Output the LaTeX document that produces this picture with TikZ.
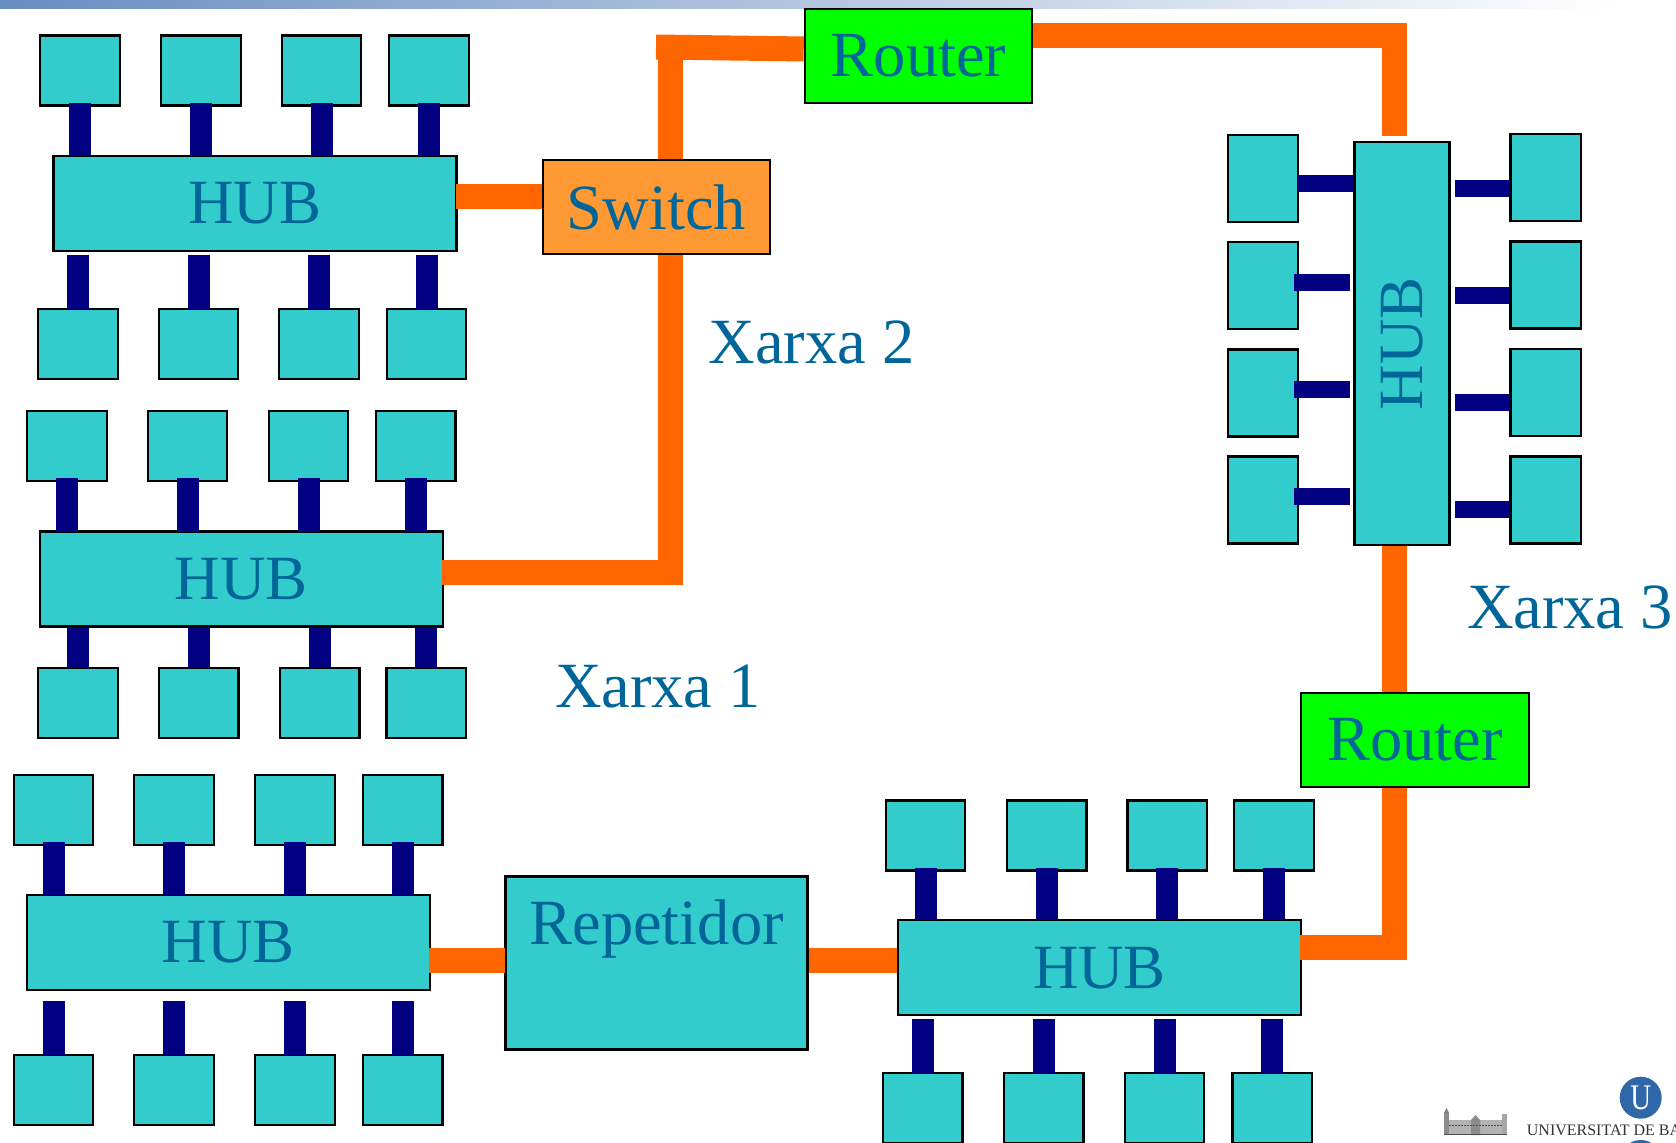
\documentclass[tikz,border=0pt]{standalone}
\usepackage{fontspec}
\setmainfont{Liberation Serif}
\usepackage{tikz}
\definecolor{pccyan}{RGB}{51,204,204}
\definecolor{busnavy}{RGB}{0,0,128}
\definecolor{linkorange}{RGB}{255,102,0}
\definecolor{switchorange}{RGB}{255,153,51}
\definecolor{routergreen}{RGB}{0,255,0}
\definecolor{netblue}{RGB}{0,102,153}
\definecolor{barblue}{RGB}{104,141,193}
\definecolor{logoblue}{RGB}{47,103,168}
\newcommand{\netfont}{\fontsize{63}{63}\selectfont}
\newcommand{\wordfont}{\fontsize{64.5}{64.5}\selectfont}

\begin{document}
\begin{tikzpicture}[
  x=1pt,y=-1pt,
  pc/.style={draw,line width=2.4pt,fill=pccyan,minimum width=79.5pt,minimum height=70pt,inner sep=0pt,outer sep=0pt},
  pcv/.style={pc,minimum width=70.5pt,minimum height=87pt},
  hub/.style={pc,minimum width=403pt,minimum height=95pt,font=\netfont,text=netblue},
  hubv/.style={hub,minimum width=95pt,minimum height=403pt},
  router/.style={hub,font=\wordfont,fill=routergreen,minimum width=227.5pt,minimum height=94pt},
  switchbox/.style={router,fill=switchorange},
  repbox/.style={hub,font=\wordfont,minimum width=302pt,minimum height=173pt,text depth=82pt},
  xarxa/.style={font=\wordfont,text=netblue,inner sep=0pt},
  bus/.style={busnavy,line width=22pt},
  busv/.style={busnavy,line width=17pt},
  link/.style={linkorange,line width=25pt,shorten <=1pt,shorten >=1pt}
]
\useasboundingbox (0,0) rectangle (1676,1143);
\clip (0,0) rectangle (1676,1143);
\shade[left color=barblue,right color=white,draw=none] (0,0) rectangle (1620,8);
% network 2, upper hub
\node[hub] (hubA) at (255,203.5) {HUB};
\node[pc] (a1) at (80,70.5) {};
\node[pc] (a2) at (201,70.5) {};
\node[pc] (a3) at (321.5,70.5) {};
\node[pc] (a4) at (429,70.5) {};
\node[pc] (a5) at (78,343.7) {};
\node[pc] (a6) at (198.5,343.7) {};
\node[pc] (a7) at (319,343.7) {};
\node[pc] (a8) at (426.5,343.7) {};
% network 2, lower hub
\node[hub] (hubB) at (241.5,579) {HUB};
\node[pc] (b1) at (67,446.2) {};
\node[pc] (b2) at (187.5,446.2) {};
\node[pc] (b3) at (308.5,446.2) {};
\node[pc] (b4) at (415.6,446.2) {};
\node[pc] (b5) at (78,702.8) {};
\node[pc] (b6) at (198.7,702.8) {};
\node[pc] (b7) at (319.6,702.8) {};
\node[pc] (b8) at (426.3,702.8) {};
% network 1
\node[hub] (hubC) at (228.5,942.3) {HUB};
\node[pc] (c1) at (53.5,810) {};
\node[pc] (c2) at (174,810) {};
\node[pc] (c3) at (295,810) {};
\node[pc] (c4) at (402.7,810) {};
\node[pc] (c5) at (53.5,1090) {};
\node[pc] (c6) at (174,1090) {};
\node[pc] (c7) at (295,1090) {};
\node[pc] (c8) at (402.7,1090) {};
\node[hub] (hubD) at (1099.5,967.7) {HUB};
\node[pc] (d1) at (925.5,835.5) {};
\node[pc] (d2) at (1046.6,835.5) {};
\node[pc] (d3) at (1167.2,835.5) {};
\node[pc] (d4) at (1274,835.5) {};
\node[pc] (d5) at (922.9,1108) {};
\node[pc] (d6) at (1043.6,1108) {};
\node[pc] (d7) at (1164.5,1108) {};
\node[pc] (d8) at (1272.3,1108) {};
\node[repbox] (rep) at (656.6,962.8) {Repetidor};
% network 3
\node[hubv] (hubE) at (1401.8,343.5) {\rotatebox{90}{HUB}\hspace{6pt}};
\node[pcv] (e1) at (1263,178.3) {};
\node[pcv] (e2) at (1263,285.7) {};
\node[pcv] (e3) at (1263,393) {};
\node[pcv] (e4) at (1263,500) {};
\node[pcv] (e5) at (1545.6,177.7) {};
\node[pcv] (e6) at (1545.6,285) {};
\node[pcv] (e7) at (1545.6,392.3) {};
\node[pcv] (e8) at (1545.6,500) {};
% devices between the networks
\node[switchbox] (swi) at (656.5,207) {Switch};
\node[router] (rtrA) at (918.5,56) {Router};
\node[router] (rtrB) at (1415,740) {Router};
\node[xarxa] (xarxaA) at (658,686.5) {Xarxa 1};
\node[xarxa] (xarxaB) at (811.5,342.5) {Xarxa 2};
\node[xarxa] (xarxaC) at (1570,607.5) {Xarxa 3};
\coordinate (cornS) at (670.5,47);
\coordinate (endS) at (656,47);
\coordinate (cornB) at (670.5,572.5);
\coordinate (cornA) at (1394.5,35.5);
\coordinate (cornE) at (1394.5,600);
\coordinate (cornD) at (1394.5,947.5);
% orange backbone
\draw[link,shorten <=-1pt] ([yshift=7pt]hubA.east) -- ([yshift=7pt]hubA.east -| swi.west);
\draw[link,shorten >=-1pt] (swi.south -| cornB) -- (cornB) -- (cornB -| hubB.east);
\draw[link,shorten >=0pt] (swi.north -| cornS) -- (cornS);
\draw[link,shorten <=0pt] (endS) -- ([yshift=7pt]rtrA.west);
\draw[link,shorten >=6pt] (rtrA.east |- cornA) -- (cornA) -- (cornA |- hubE.north);
\draw[link] (hubE.south -| cornE) -- (rtrB.north -| cornE);
\draw[link,shorten >=-1pt] (rtrB.south -| cornD) -- (cornD) -- (cornD -| hubD.east);
\draw[link,shorten >=-1pt] ([yshift=2pt]rep.west) -- ([yshift=2pt]rep.west -| hubC.east);
\draw[link] ([yshift=2pt]rep.east) -- ([yshift=2pt]rep.east -| hubD.west);
% navy drops
\draw[bus,shorten <=-3pt] (a1.south) -- (a1.south |- hubA.north);
\draw[bus,shorten <=-3pt] (a2.south) -- (a2.south |- hubA.north);
\draw[bus,shorten <=-3pt] (a3.south) -- (a3.south |- hubA.north);
\draw[bus,shorten <=-3pt] (a4.south) -- (a4.south |- hubA.north);
\draw[bus,shorten <=4pt] (a5.north |- hubA.south) -- (a5.north);
\draw[bus,shorten <=4pt] (a6.north |- hubA.south) -- (a6.north);
\draw[bus,shorten <=4pt] (a7.north |- hubA.south) -- (a7.north);
\draw[bus,shorten <=4pt] (a8.north |- hubA.south) -- (a8.north);
\draw[bus,shorten <=-3pt] (b1.south) -- (b1.south |- hubB.north);
\draw[bus,shorten <=-3pt] (b2.south) -- (b2.south |- hubB.north);
\draw[bus,shorten <=-3pt] (b3.south) -- (b3.south |- hubB.north);
\draw[bus,shorten <=-3pt] (b4.south) -- (b4.south |- hubB.north);
\draw[bus] (b5.north |- hubB.south) -- (b5.north);
\draw[bus] (b6.north |- hubB.south) -- (b6.north);
\draw[bus] (b7.north |- hubB.south) -- (b7.north);
\draw[bus] (b8.north |- hubB.south) -- (b8.north);
\draw[bus,shorten <=-3pt] (c1.south) -- (c1.south |- hubC.north);
\draw[bus,shorten <=-3pt] (c2.south) -- (c2.south |- hubC.north);
\draw[bus,shorten <=-3pt] (c3.south) -- (c3.south |- hubC.north);
\draw[bus,shorten <=-3pt] (c4.south) -- (c4.south |- hubC.north);
\draw[bus,shorten <=11pt] (c5.north |- hubC.south) -- (c5.north);
\draw[bus,shorten <=11pt] (c6.north |- hubC.south) -- (c6.north);
\draw[bus,shorten <=11pt] (c7.north |- hubC.south) -- (c7.north);
\draw[bus,shorten <=11pt] (c8.north |- hubC.south) -- (c8.north);
\draw[bus,shorten <=-3pt] (d1.south) -- (d1.south |- hubD.north);
\draw[bus,shorten <=-3pt] (d2.south) -- (d2.south |- hubD.north);
\draw[bus,shorten <=-3pt] (d3.south) -- (d3.south |- hubD.north);
\draw[bus,shorten <=-3pt] (d4.south) -- (d4.south |- hubD.north);
\draw[bus,shorten <=4pt] (d5.north |- hubD.south) -- (d5.north);
\draw[bus,shorten <=4pt] (d6.north |- hubD.south) -- (d6.north);
\draw[bus,shorten <=4pt] (d7.north |- hubD.south) -- (d7.north);
\draw[bus,shorten <=4pt] (d8.north |- hubD.south) -- (d8.north);
\draw[busv] ([yshift=-5.2pt]e1.east) -- ([yshift=-5.2pt]e1.east -| hubE.west);
\draw[busv,shorten <=-4pt,shorten >=4.5pt] ([yshift=3.2pt]e2.east) -- ([yshift=3.2pt]e2.east -| hubE.west);
\draw[busv,shorten <=-4pt,shorten >=4.5pt] ([yshift=3.5pt]e3.east) -- ([yshift=3.5pt]e3.east -| hubE.west);
\draw[busv,shorten <=-4pt,shorten >=4.5pt] ([yshift=3.5pt]e4.east) -- ([yshift=3.5pt]e4.east -| hubE.west);
\draw[busv,shorten <=6pt] ([yshift=-10.8pt]e5.west -| hubE.east) -- ([yshift=-10.8pt]e5.west);
\draw[busv,shorten <=6pt] ([yshift=-10.5pt]e6.west -| hubE.east) -- ([yshift=-10.5pt]e6.west);
\draw[busv,shorten <=6pt] ([yshift=-10.2pt]e7.west -| hubE.east) -- ([yshift=-10.2pt]e7.west);
\draw[busv,shorten <=6pt] ([yshift=-9.5pt]e8.west -| hubE.east) -- ([yshift=-9.5pt]e8.west);
% university logo
\node[circle,fill=logoblue,minimum size=42pt,inner sep=0pt,text=white,font=\fontsize{36}{36}\selectfont] (logoU) at (1640.7,1097.7) {\scalebox{.8}[1]{U}};
\node[circle,fill=logoblue,minimum size=42pt,inner sep=0pt] (logoV) at (1640.7,1161) {};
\node[anchor=base west,inner sep=0pt,text=black!80,font=\fontsize{16}{16}\selectfont] (logoT) at (1526.7,1135) {UNIVERSITAT DE BA};
\fill[black!30] (1444,1120) rectangle (1507,1135);
\fill[black!45] (1444,1112) rectangle (1449,1135);
\fill[black!35] (1502,1114) rectangle (1507,1135);
\fill[black!50] (1446.5,1108) -- (1449,1113) -- (1444,1113) -- cycle;
\fill[black!45] (1471,1120) -- (1475.5,1115) -- (1480,1120) -- (1480,1135) -- (1471,1135) -- cycle;
\draw[black!70,line width=1pt,dash pattern=on 1.5pt off 1.5pt] (1449,1125) -- (1502,1125);
\draw[black!70,line width=1pt] (1444,1134.5) -- (1507,1134.5);
\end{tikzpicture}
\end{document}
